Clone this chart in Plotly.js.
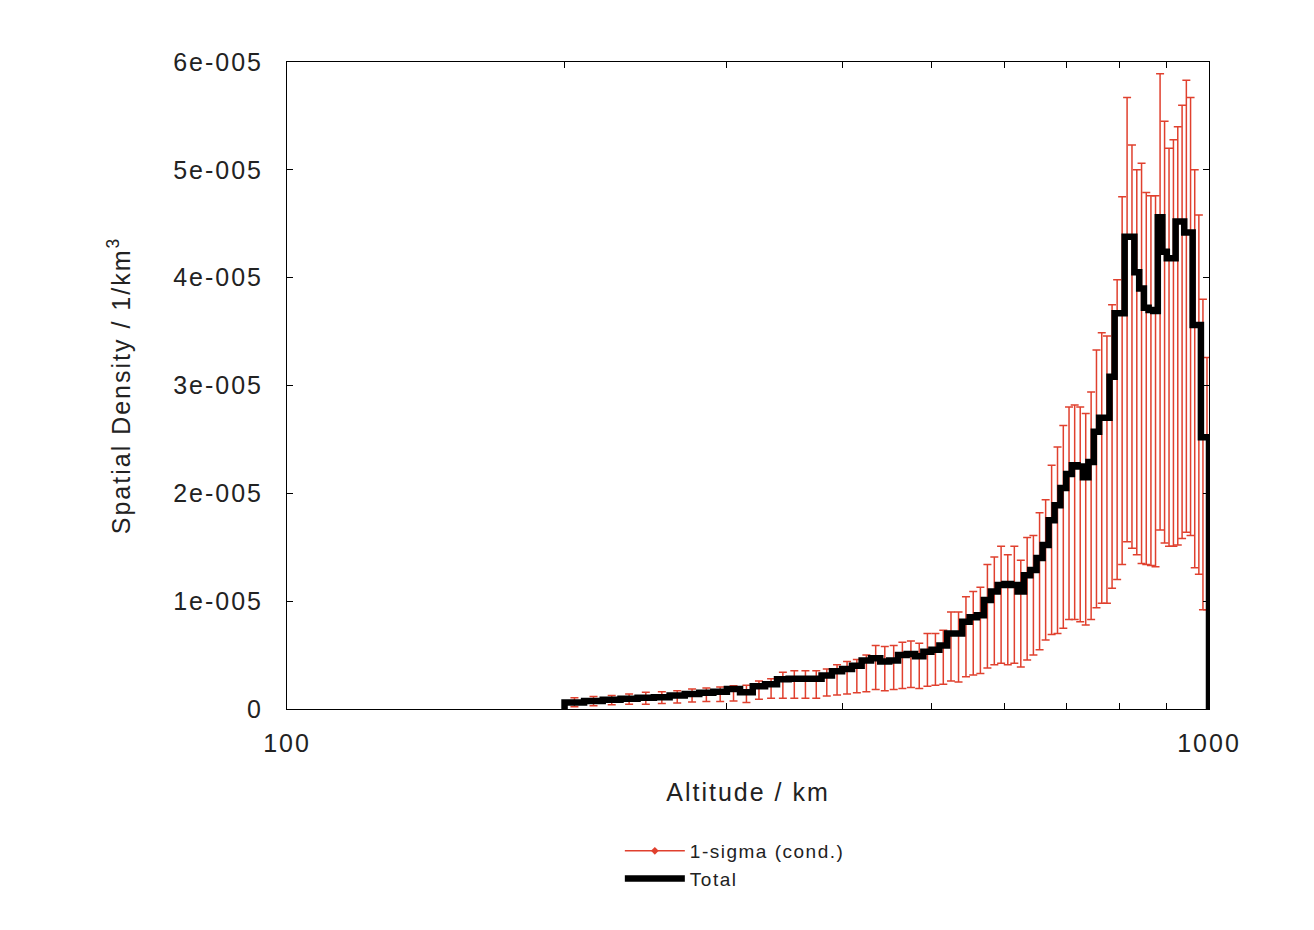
<!DOCTYPE html>
<html>
<head>
<meta charset="utf-8">
<script src="https://cdn.plot.ly/plotly-3.0.1.min.js"></script>
<style>
  html, body { margin: 0; padding: 0; background: #fff; }
  #plot { width: 1314px; height: 930px; }
  /* the original renderer sets its labels a little wider;
     global so that plotly's text measuring sees it too */
  svg text { letter-spacing: 2px; }
  svg text.legendtext { letter-spacing: 1.5px; }
</style>
</head>
<body>
<div id="plot"></div>
<script>
// altitude bins, 10 km wide (lower edge), km
var binStart = [200, 210, 220, 230, 240, 250, 260, 270, 280, 290,
  300, 310, 320, 330, 340, 350, 360, 370, 380, 390,
  400, 410, 420, 430, 440, 450, 460, 470, 480, 490,
  500, 510, 520, 530, 540, 550, 560, 570, 580, 590,
  600, 610, 620, 630, 640, 650, 660, 670, 680, 690,
  700, 710, 720, 730, 740, 750, 760, 770, 780, 790,
  800, 810, 820, 830, 840, 850, 860, 870, 880, 890,
  900, 910, 920, 930, 940, 950, 960, 970, 980, 990];
var binWidth = 10;

// spatial density, units of 1e-6 / km^3
var total = [0.6, 0.75, 0.85, 0.95, 1.05, 1.1, 1.25, 1.4, 1.5, 1.6,
  1.85, 1.55, 2.1, 2.3, 2.75, 2.8, 2.8, 2.8, 3.1, 3.5,
  3.7, 4.0, 4.5, 4.7, 4.4, 4.5, 5.0, 5.1, 4.9, 5.3,
  5.5, 5.9, 7.0, 7.0, 8.1, 8.5, 8.7, 10.1, 10.9, 11.5,
  11.6, 11.5, 10.9, 12.4, 12.9, 14.0, 15.2, 17.5, 18.9, 20.5,
  21.8, 22.6, 22.5, 21.5, 22.9, 25.7, 27.0, 27.0, 30.8, 36.7,
  36.7, 43.8, 43.8, 40.5, 39.0, 37.2, 37.0, 36.9, 45.6, 42.4,
  41.8, 41.8, 45.2, 45.2, 44.2, 44.2, 35.6, 35.6, 25.2, 25.2];

// 1-sigma upper and lower bounds, same units
var upper = [1.05, 1.15, 1.25, 1.4, 1.55, 1.6, 1.7, 1.85, 1.95, 2.05,
  2.15, 2.2, 2.6, 2.8, 3.4, 3.55, 3.55, 3.55, 3.7, 4.1,
  4.4, 4.6, 5.0, 5.9, 5.8, 5.9, 6.2, 6.3, 6.1, 7.0,
  7.0, 7.3, 9.0, 9.0, 10.4, 10.9, 11.3, 13.4, 14.1, 15.1,
  14.3, 15.1, 13.8, 15.9, 16.1, 18.2, 19.4, 22.6, 24.3, 26.3,
  28.0, 28.2, 28.0, 27.4, 29.4, 33.3, 34.9, 34.6, 37.5, 39.8,
  47.5, 56.7, 52.3, 50.0, 50.6, 47.9, 47.6, 47.6, 58.9, 54.5,
  52.0, 52.8, 54.0, 56.0, 58.3, 56.7, 50.0, 45.8, 38.0, 32.6];
var lower = [0.2, 0.3, 0.4, 0.45, 0.45, 0.5, 0.55, 0.65, 0.7, 0.7,
  0.75, 0.6, 0.9, 1.0, 1.0, 1.0, 1.0, 1.0, 1.2, 1.3,
  1.4, 1.5, 1.6, 1.8, 1.7, 1.8, 1.9, 2.0, 1.9, 2.1,
  2.2, 2.3, 2.6, 2.5, 3.0, 3.15, 3.3, 3.8, 4.1, 4.25,
  4.1, 4.25, 3.9, 4.55, 5.0, 5.5, 6.4, 6.9, 7.0, 7.5,
  8.3, 8.3, 8.1, 7.8, 8.3, 9.4, 9.8, 9.8, 11.2, 12.0,
  13.4, 15.5, 14.9, 14.3, 13.5, 13.4, 13.3, 13.2, 16.6, 15.4,
  15.1, 15.1, 15.2, 15.8, 16.4, 16.1, 13.1, 12.5, 9.2, 9.2];

var yTickVals = [0, 1e-5, 2e-5, 3e-5, 4e-5, 5e-5, 6e-5];
var yTickText = ["0", "1e-005", "2e-005", "3e-005", "4e-005", "5e-005", "6e-005"];
var xTickVals = [100, 1000];
var xTickText = ["100", "1000"];
var xMinorVals = [200, 300, 400, 500, 600, 700, 800, 900];

var scale = 1e-6;
var red = "#e0402e";

// error bars sit at bin centres
var xc = [], yc = [], errPlus = [], errMinus = [];
for (var i = 0; i < binStart.length; i++) {
  xc.push(binStart[i] + binWidth / 2);
  yc.push(total[i] * scale);
  errPlus.push((upper[i] - total[i]) * scale);
  errMinus.push((total[i] - lower[i]) * scale);
}

// histogram steps, closed down to zero at both ends
var xs = [binStart[0]], ys = [0];
for (var j = 0; j < binStart.length; j++) {
  xs.push(binStart[j]);
  ys.push(total[j] * scale);
}
xs.push(binStart[binStart.length - 1] + binWidth);
ys.push(0);

var traceSigma = {
  x: xc,
  y: yc,
  type: "scatter",
  mode: "markers",
  showlegend: false,
  marker: { color: red, size: 2 },
  error_y: {
    type: "data",
    symmetric: false,
    array: errPlus,
    arrayminus: errMinus,
    color: red,
    thickness: 1.5,
    width: 4
  },
  hoverinfo: "skip"
};

// legend entry only
var traceSigmaKey = {
  x: [null],
  y: [null],
  type: "scatter",
  mode: "lines+markers",
  name: "1-sigma (cond.)",
  line: { color: red, width: 1.5 },
  marker: { color: red, symbol: "diamond", size: 6 }
};

var traceTotal = {
  x: xs,
  y: ys,
  type: "scatter",
  mode: "lines",
  name: "Total",
  line: { color: "#000", width: 6.5, shape: "hv" }
};

var fam = "Liberation Sans, Arial, sans-serif";

var layout = {
  width: 1314,
  height: 930,
  margin: { l: 287, r: 105, t: 62, b: 221 },
  paper_bgcolor: "#fff",
  plot_bgcolor: "#fff",
  font: { family: fam, color: "#222", size: 25 },
  showlegend: true,
  legend: {
    x: 0.361,
    y: -0.19,
    xanchor: "left",
    yanchor: "top",
    itemwidth: 60,
    font: { family: fam, color: "#222", size: 19 },
    tracegroupgap: 0,
    bgcolor: "rgba(0,0,0,0)"
  },
  xaxis: {
    type: "log",
    range: [2, 3],
    tickvals: xTickVals,
    ticktext: xTickText,
    ticks: "inside",
    ticklen: 6,
    tickcolor: "#000",
    minor: { tickvals: xMinorVals, ticks: "inside", ticklen: 6, tickcolor: "#000", showgrid: false },
    showline: true,
    linecolor: "#000",
    linewidth: 1,
    mirror: "ticks",
    showgrid: false,
    zeroline: false,
    ticklabelstandoff: 12,
    tickfont: { size: 25 },
    title: { text: "Altitude / km", font: { size: 25 }, standoff: 27 }
  },
  yaxis: {
    range: [0, 6e-5],
    tickvals: yTickVals,
    ticktext: yTickText,
    ticks: "inside",
    ticklen: 6,
    tickcolor: "#000",
    showline: true,
    linecolor: "#000",
    linewidth: 1,
    mirror: "ticks",
    showgrid: false,
    zeroline: false,
    ticklabelstandoff: 18,
    tickfont: { size: 25 },
    title: { text: "Spatial Density / 1/km<sup>3</sup>", font: { size: 25 }, standoff: 35 }
  }
};

Plotly.newPlot("plot", [traceSigma, traceSigmaKey, traceTotal], layout, { staticPlot: true });
</script>
</body>
</html>
